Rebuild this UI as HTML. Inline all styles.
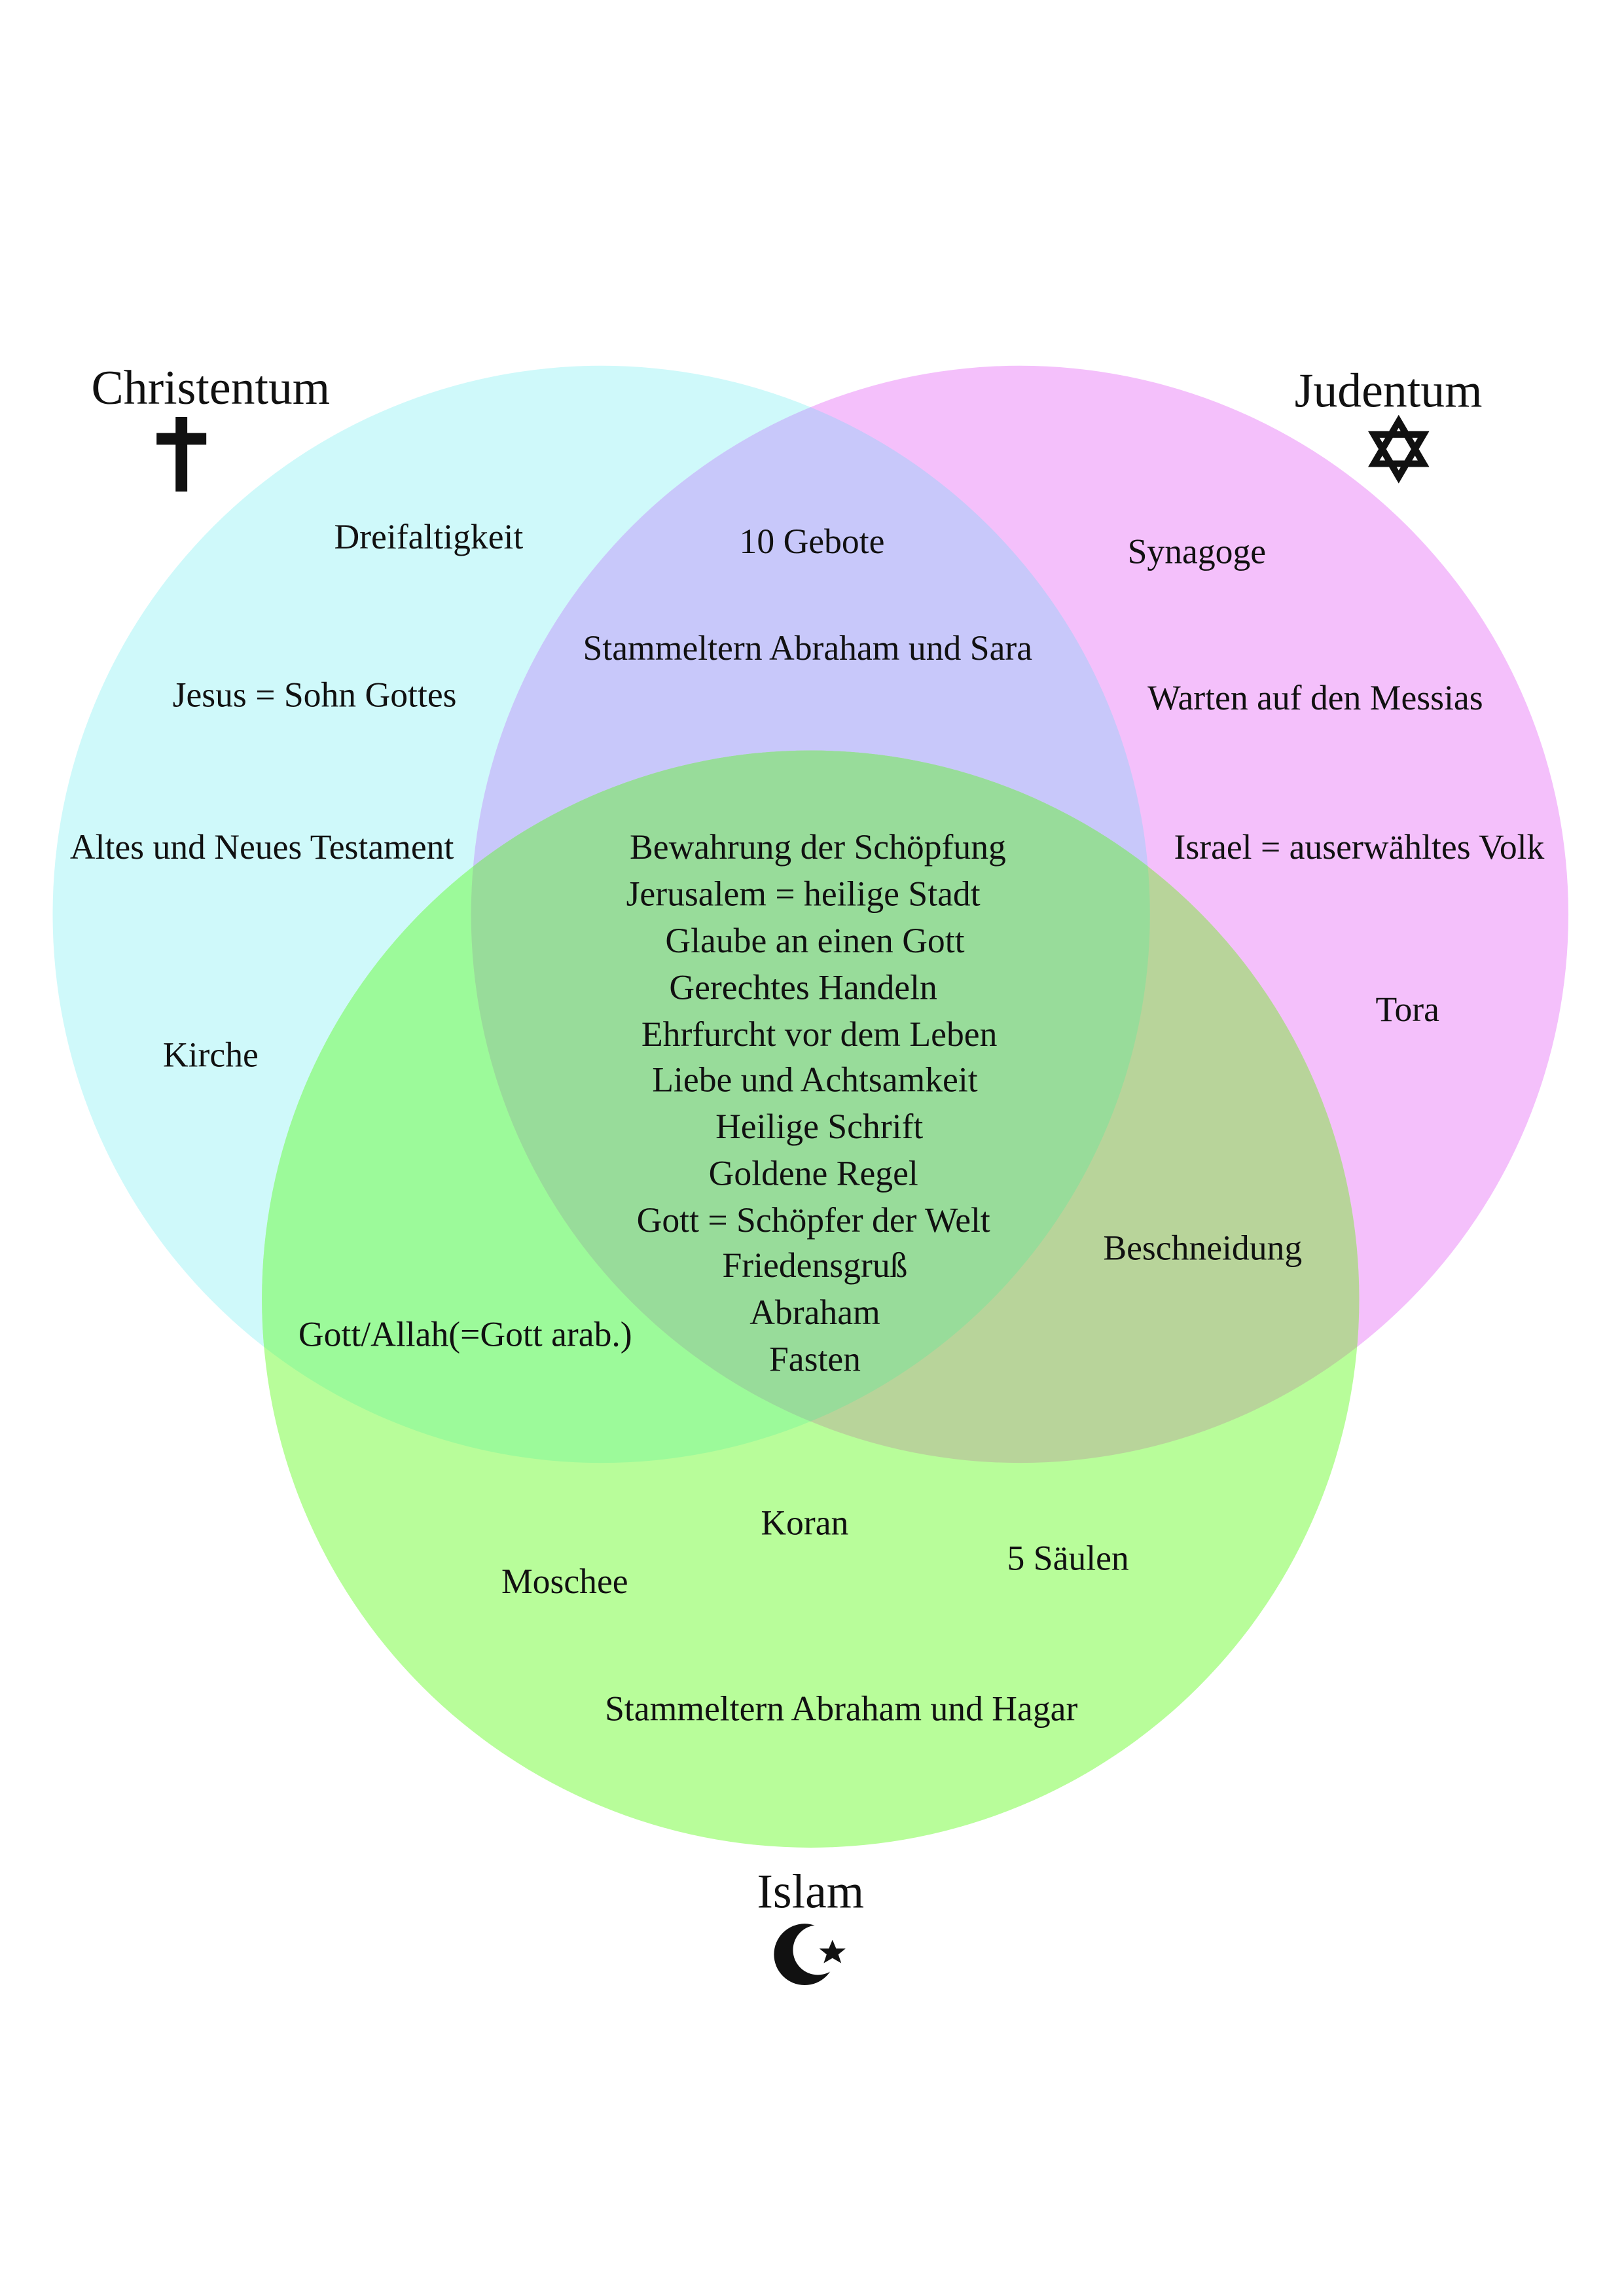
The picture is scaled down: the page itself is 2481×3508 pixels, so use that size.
<!DOCTYPE html>
<html><head><meta charset="utf-8"><style>
html,body{margin:0;padding:0;background:#fff;}
svg{display:block;}
text{font-family:"Liberation Serif","DejaVu Serif",serif;font-size:24px;fill:#111;text-anchor:middle;}
.t{font-size:33px;}
</style></head><body>
<svg width="2481" height="3508" viewBox="0 0 1110 1569.5" xmlns="http://www.w3.org/2000/svg">
<defs>
<clipPath id="cC"><circle cx="411" cy="625" r="375"/></clipPath>
<clipPath id="cJ"><circle cx="697" cy="625" r="375"/></clipPath>
<clipPath id="cI"><circle cx="554" cy="888" r="375"/></clipPath>
</defs>
<rect width="1110" height="1570" fill="#fff"/>
<circle cx="411" cy="625" r="375" fill="#cff9fa"/>
<circle cx="697" cy="625" r="375" fill="#f4c0fb"/>
<circle cx="554" cy="888" r="375" fill="#b8fd9a"/>
<g clip-path="url(#cC)"><circle cx="697" cy="625" r="375" fill="#c8c8fa"/><circle cx="554" cy="888" r="375" fill="#9cfa9a"/></g>
<g clip-path="url(#cJ)"><circle cx="554" cy="888" r="375" fill="#b8d49a"/></g>
<g clip-path="url(#cC)"><g clip-path="url(#cJ)"><circle cx="554" cy="888" r="375" fill="#98dc9a"/></g></g>

<text class="t" x="144" y="276">Christentum</text>
<rect x="120" y="285" width="8" height="51" fill="#111"/>
<rect x="107" y="296" width="34" height="8" fill="#111"/>
<text class="t" x="949" y="278">Judentum</text>
<g fill="none" stroke="#111" stroke-width="4.5" stroke-linejoin="miter">
<polygon points="956,288 973,317 939,317"/>
<polygon points="956,326 973,297 939,297"/>
</g>
<text class="t" x="554" y="1304">Islam</text>
<circle cx="550" cy="1336" r="21" fill="#111"/>
<circle cx="559" cy="1333" r="17" fill="#fff"/>
<polygon fill="#111" points="569,1326 571.5,1332 578,1332 573,1336 575,1342 569,1338.5 563,1342 565,1336 560,1332 566.5,1332"/>

<text x="293" y="375">Dreifaltigkeit</text>
<text x="555" y="378">10 Gebote</text>
<text x="818" y="385">Synagoge</text>
<text x="552" y="451">Stammeltern Abraham und Sara</text>
<text x="215" y="483">Jesus = Sohn Gottes</text>
<text x="899" y="485">Warten auf den Messias</text>
<text x="179" y="587">Altes und Neues Testament</text>
<text x="559" y="587">Bewahrung der Schöpfung</text>
<text x="929" y="587">Israel = auserwähltes Volk</text>
<text x="549" y="619">Jerusalem = heilige Stadt</text>
<text x="557" y="651">Glaube an einen Gott</text>
<text x="549" y="683">Gerechtes Handeln</text>
<text x="962" y="698">Tora</text>
<text x="560" y="715">Ehrfurcht vor dem Leben</text>
<text x="144" y="729">Kirche</text>
<text x="557" y="746">Liebe und Achtsamkeit</text>
<text x="560" y="778">Heilige Schrift</text>
<text x="556" y="810">Goldene Regel</text>
<text x="556" y="842">Gott = Schöpfer der Welt</text>
<text x="822" y="861">Beschneidung</text>
<text x="557" y="873">Friedensgruß</text>
<text x="557" y="905">Abraham</text>
<text x="318" y="920">Gott/Allah(=Gott arab.)</text>
<text x="557" y="937">Fasten</text>
<text x="550" y="1049">Koran</text>
<text x="730" y="1073">5 Säulen</text>
<text x="386" y="1089">Moschee</text>
<text x="575" y="1176">Stammeltern Abraham und Hagar</text>
</svg>
</body></html>
